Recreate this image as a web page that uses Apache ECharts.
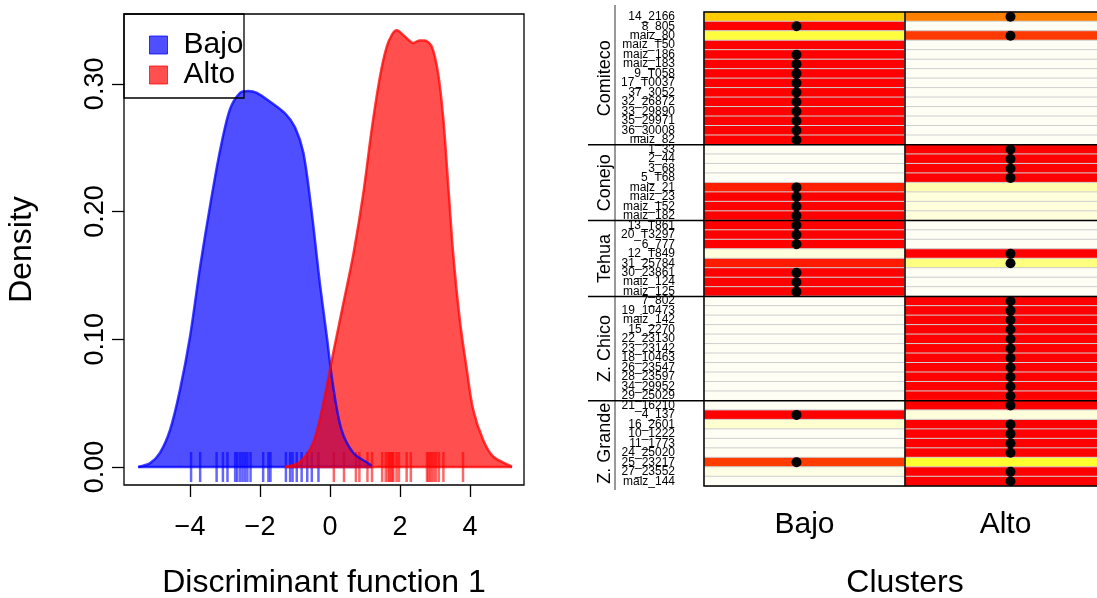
<!DOCTYPE html>
<html>
<head>
<meta charset="utf-8">
<script src="https://cdn.jsdelivr.net/npm/echarts@6/dist/echarts.min.js"></script>
<style>
html, body { margin: 0; padding: 0; background: #fff; }
#chart { width: 1097px; height: 598px; }
</style>
</head>
<body>
<div id="chart"></div>
<script>
const FONT = 'Liberation Sans'

// density curves as [x, density]
const bajoDensity = [
    [-5.48, 0], [-5.14, 0.003], [-4.86, 0.011], [-4.57, 0.029], [-4.29, 0.060],
    [-4.0, 0.102], [-3.71, 0.157], [-3.43, 0.204], [-3.14, 0.248], [-2.86, 0.280],
    [-2.57, 0.293], [-2.33, 0.2945], [-2.09, 0.293], [-1.71, 0.286], [-1.29, 0.277],
    [-1.0, 0.266], [-0.76, 0.246], [-0.52, 0.199], [-0.29, 0.144], [-0.09, 0.102],
    [0.09, 0.063], [0.33, 0.029], [0.67, 0.011], [1.14, 0.002], [1.2, 0]
]
const altoDensity = [
    [-1.29, 0], [-0.86, 0.004], [-0.48, 0.019], [-0.19, 0.050], [0.09, 0.089],
    [0.38, 0.128], [0.67, 0.167], [0.95, 0.214], [1.19, 0.264], [1.43, 0.306],
    [1.62, 0.329], [1.78, 0.339], [1.91, 0.342], [2.14, 0.337], [2.38, 0.332],
    [2.55, 0.334], [2.71, 0.334], [2.91, 0.329], [3.09, 0.308], [3.24, 0.272],
    [3.38, 0.220], [3.52, 0.167], [3.71, 0.115], [3.91, 0.076], [4.09, 0.045],
    [4.38, 0.021], [4.67, 0.008], [5.14, 0.001], [5.2, 0]
]
// rug (discriminant scores of each individual)
const bajoRug = [-3.97, -3.71, -3.24, -3.06, -2.93, -2.71, -2.65, -2.57, -2.5, -2.43,
    -2.36, -2.27, -1.91, -1.76, -1.7, -1.26, -1.14, -1.07, -0.95, -0.81, -0.65, -0.52, -0.33]
const altoRug = [0.11, 0.4, 0.74, 0.84, 1.07, 1.2, 1.49, 1.59, 1.65, 1.7, 1.73, 1.78, 1.81,
    1.9, 1.97, 2.19, 2.31, 2.77, 2.81, 2.86, 2.91, 2.97, 3.03, 3.11, 3.24, 3.8]
const xTicks = [-4, -2, 0, 2, 4]
const yTicks = [0, 0.1, 0.2, 0.3]

// membership plot
const clusters = ['Bajo', 'Alto']
const groupNames = ['Comiteco', 'Conejo', 'Tehua', 'Z. Chico', 'Z. Grande']
const groupSizes = [14, 8, 8, 11, 9]
const individuals = [
    '14_2166', '8_805', 'maiz_80', 'maiz_T50', 'maiz_186', 'maiz_183', '9_T058', '17_T0037',
    '37_3052', '32_26872', '33_29890', '35_29971', '36_30008', 'maiz_82',
    '1_33', '2_44', '3_68', '5_T68', 'maiz_21', 'maiz_23', 'maiz_152', 'maiz_182',
    '13_T861', '20_T3297', '6_777', '12_T849', '31_25784', '30_23861', 'maiz_124', 'maiz_125',
    '7_802', '19_10473', 'maiz_142', '15_2270', '22_23130', '23_23142', '18_10463', '26_23547',
    '28_23597', '34_29952', '29_25029',
    '21_16210', '4_137', '16_2601', '10_1222', '11_1773', '24_25020', '25_23217', '27_23552', 'maiz_144'
]
const bajoProb = [
    0.40, 0.97, 0.26, 0.97, 0.97, 0.97, 0.97, 0.97, 0.97, 0.97, 0.97, 0.97, 0.97, 0.97,
    0, 0, 0, 0, 0.82, 0.95, 0.95, 0.95,
    0.97, 0.97, 0.97, 0.05, 0.83, 0.97, 0.97, 0.97,
    0, 0, 0, 0, 0, 0, 0, 0, 0, 0, 0,
    0, 0.95, 0.07, 0, 0, 0, 0.74, 0.03, 0
]
const altoProb = [
    0.60, 0, 0.75, 0, 0, 0, 0, 0, 0, 0, 0, 0, 0, 0,
    0.97, 0.97, 0.97, 0.97, 0.12, 0.05, 0.05, 0.05,
    0, 0, 0, 0.95, 0.18, 0, 0, 0,
    0.97, 0.97, 0.97, 0.97, 0.97, 0.97, 0.97, 0.97, 0.97, 0.97, 0.97,
    0.97, 0.05, 0.93, 0.97, 0.97, 0.97, 0.28, 0.97, 0.97
]
const assigned = [
    'Alto', 'Bajo', 'Alto', null, 'Bajo', 'Bajo', 'Bajo', 'Bajo', 'Bajo', 'Bajo', 'Bajo', 'Bajo', 'Bajo', 'Bajo',
    'Alto', 'Alto', 'Alto', 'Alto', 'Bajo', 'Bajo', 'Bajo', 'Bajo',
    'Bajo', 'Bajo', 'Bajo', 'Alto', 'Alto', 'Bajo', 'Bajo', 'Bajo',
    'Alto', 'Alto', 'Alto', 'Alto', 'Alto', 'Alto', 'Alto', 'Alto', 'Alto', 'Alto', 'Alto',
    'Alto', 'Bajo', 'Alto', 'Alto', 'Alto', 'Alto', 'Bajo', 'Alto', 'Alto'
]

const cells = []
individuals.forEach((id, i) => {
    cells.push([0, i, bajoProb[i]])
    cells.push([1, i, altoProb[i]])
})
const dots = []
assigned.forEach((c, i) => {
    if (c) dots.push({ value: [clusters.indexOf(c), i], symbolOffset: c === 'Bajo' ? [-8, 0] : [5, 0] })
})
const groupStart = []
groupSizes.reduce((acc, n) => { groupStart.push(acc); return acc + n }, 0)

const blueFill = 'rgba(0,0,255,0.69)'
const blueLine = 'rgba(0,0,255,0.75)'
const redFill = 'rgba(255,0,0,0.69)'
const redLine = 'rgba(255,0,0,0.75)'
const fmtX = v => (v < 0 ? '\u2212' + Math.abs(v) : String(v))

const chart = echarts.init(document.getElementById('chart'))
chart.setOption({
    animation: false,
    backgroundColor: '#fff',
    textStyle: { fontFamily: FONT, color: '#000' },
    grid: [
        { left: 124, top: 14, width: 400, height: 471, outerBoundsMode: 'none', show: true, borderColor: '#000', borderWidth: 1.3, backgroundColor: 'transparent' },
        { left: 704, top: 12, width: 402, height: 474, outerBoundsMode: 'none' }
    ],
    legend: {
        left: 144, top: 25, orient: 'vertical', itemWidth: 18, itemHeight: 18, itemGap: 0,
        textStyle: { fontSize: 30, lineHeight: 28, fontFamily: FONT, color: '#000', padding: [0, 0, 0, 11] },
        data: [
            { name: 'Bajo', icon: 'rect', itemStyle: { color: blueFill, borderColor: blueLine, borderWidth: 1 } },
            { name: 'Alto', icon: 'rect', itemStyle: { color: redFill, borderColor: redLine, borderWidth: 1 } }
        ]
    },
    visualMap: {
        show: false, type: 'continuous', min: 0, max: 1, seriesIndex: 6,
        inRange: { color: ['#FEFEF5', '#FFFFC0', '#FFFF70', '#FFFF20', '#FFCC00', '#FFA600', '#FF8000', '#FF4D00', '#FF2600', '#FF0000', '#FF0000'] }
    },
    graphic: [
        { type: 'rect', shape: { x: 124, y: 14, width: 120, height: 84 }, style: { fill: 'none', stroke: '#000', lineWidth: 1.3 }, z: 100 },
        { type: 'line', shape: { x1: 615, y1: 5, x2: 615, y2: 490 }, style: { stroke: '#777', lineWidth: 1.5 } }
    ],
    xAxis: [
        {
            gridIndex: 0, type: 'value', min: -5.886, max: 5.543,
            axisLine: { show: false, onZero: false }, splitLine: { show: false },
            axisTick: { customValues: xTicks, length: 12, lineStyle: { color: '#000', width: 1.3 } },
            axisLabel: { customValues: xTicks, formatter: fmtX, fontSize: 27, color: '#000', margin: 29, fontFamily: FONT },
            name: 'Discriminant function 1', nameLocation: 'middle', nameGap: 82,
            nameTextStyle: { fontSize: 32, color: '#000', fontFamily: FONT }
        },
        {
            gridIndex: 1, type: 'category', data: clusters,
            axisLine: { show: false, onZero: false }, axisTick: { show: false }, splitLine: { show: false },
            axisLabel: { fontSize: 30, color: '#000', margin: 24, fontFamily: FONT },
            name: 'Clusters', nameLocation: 'middle', nameGap: 81,
            nameTextStyle: { fontSize: 32, color: '#000', fontFamily: FONT }
        }
    ],
    yAxis: [
        {
            gridIndex: 0, type: 'value', min: -0.0141, max: 0.3547,
            axisLine: { show: false, onZero: false }, splitLine: { show: false },
            axisTick: { customValues: yTicks, length: 12, lineStyle: { color: '#000', width: 1.3 } },
            axisLabel: { customValues: yTicks, rotate: 90, formatter: v => v.toFixed(2), fontSize: 27, color: '#000', margin: 15, fontFamily: FONT },
            name: 'Density', nameLocation: 'middle', nameGap: 86,
            nameTextStyle: { fontSize: 32, color: '#000', fontFamily: FONT }
        },
        {
            gridIndex: 1, type: 'category', data: individuals, inverse: true,
            axisLine: { show: false, onZero: false }, splitLine: { show: false },
            axisTick: { alignWithLabel: true, length: 14, lineStyle: { color: '#000', width: 1.2 } },
            axisLabel: { interval: 0, fontSize: 12, color: '#000', margin: 29, fontFamily: FONT }
        }
    ],
    series: [
        {
            name: 'Bajo', type: 'line', xAxisIndex: 0, yAxisIndex: 0, data: bajoDensity,
            smooth: 0.3, showSymbol: false, lineStyle: { color: blueLine, width: 2.5 },
            itemStyle: { color: blueFill }, areaStyle: { color: blueFill, opacity: 1 }
        },
        {
            name: 'Bajo base', type: 'line', xAxisIndex: 0, yAxisIndex: 0,
            data: [bajoDensity[0], bajoDensity[bajoDensity.length - 1]],
            showSymbol: false, lineStyle: { color: blueLine, width: 2.5 }
        },
        {
            name: 'Alto', type: 'line', xAxisIndex: 0, yAxisIndex: 0, data: altoDensity,
            smooth: 0.3, showSymbol: false, lineStyle: { color: redLine, width: 2.5 },
            itemStyle: { color: redFill }, areaStyle: { color: redFill, opacity: 1 }
        },
        {
            name: 'Alto base', type: 'line', xAxisIndex: 0, yAxisIndex: 0,
            data: [altoDensity[0], altoDensity[altoDensity.length - 1]],
            showSymbol: false, lineStyle: { color: redLine, width: 2.5 }
        },
        {
            name: 'Bajo rug', type: 'scatter', xAxisIndex: 0, yAxisIndex: 0,
            data: bajoRug.map(v => [v, 0]), symbol: 'rect', symbolSize: [2.5, 30],
            itemStyle: { color: 'rgba(0,0,255,0.75)' }, silent: true
        },
        {
            name: 'Alto rug', type: 'scatter', xAxisIndex: 0, yAxisIndex: 0,
            data: altoRug.map(v => [v, 0]), symbol: 'rect', symbolSize: [2.5, 30],
            itemStyle: { color: 'rgba(255,0,0,0.75)' }, silent: true
        },
        {
            name: 'membership', type: 'heatmap', xAxisIndex: 1, yAxisIndex: 1, data: cells,
            itemStyle: { borderColor: '#cfcfcf', borderWidth: 1 }, emphasis: { disabled: true }
        },
        {
            name: 'assigned', type: 'scatter', xAxisIndex: 1, yAxisIndex: 1, data: dots,
            symbolSize: 10, itemStyle: { color: '#000', opacity: 1 }, emphasis: { disabled: true }, z: 5
        },
        {
            name: 'frame', type: 'custom', xAxisIndex: 1, yAxisIndex: 1, data: [[0, 0]], z: 6,
            renderItem(params, api) {
                const cs = params.coordSys
                const xMid = api.coord([1, 0])[0] - api.size([1, 0])[0] / 2
                return {
                    type: 'group', children: [
                        { type: 'rect', shape: { x: cs.x, y: cs.y, width: cs.width, height: cs.height }, style: { fill: 'none', stroke: '#000', lineWidth: 1.5 } },
                        { type: 'line', shape: { x1: xMid, y1: cs.y, x2: xMid, y2: cs.y + cs.height }, style: { stroke: '#000', lineWidth: 1.5 } }
                    ]
                }
            }
        },
        {
            name: 'groups', type: 'custom', xAxisIndex: 1, yAxisIndex: 1, z: 6,
            data: groupNames.map((g, i) => [0, i]),
            renderItem(params, api) {
                const i = params.dataIndex
                const s = groupStart[i]
                const n = groupSizes[i]
                const band = api.size([0, 1])[1]
                const yTop = api.coord([0, s])[1] - band / 2
                const yMid = (api.coord([0, s])[1] + api.coord([0, s + n - 1])[1]) / 2
                const children = [{
                    type: 'text', x: 605, y: yMid, rotation: Math.PI / 2,
                    style: { text: groupNames[i], font: '18px "Liberation Sans"', fill: '#000', align: 'center', verticalAlign: 'middle' }
                }]
                if (i > 0) {
                    children.push({ type: 'line', shape: { x1: 588, y1: yTop, x2: 1100, y2: yTop }, style: { stroke: '#000', lineWidth: 1.5 } })
                }
                return { type: 'group', children }
            }
        }
    ]
})
</script>
</body>
</html>
